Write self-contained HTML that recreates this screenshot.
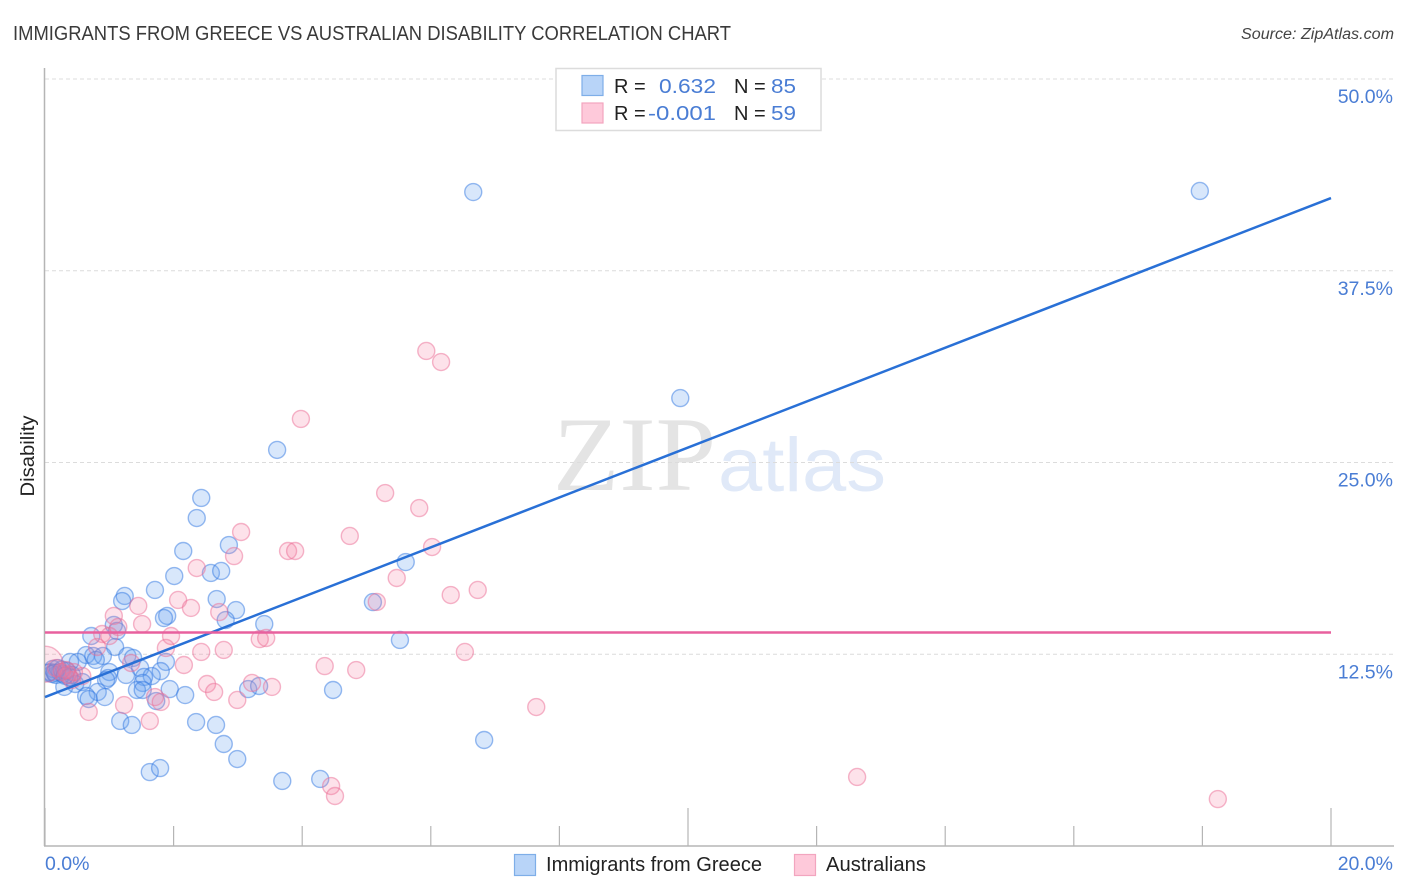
<!DOCTYPE html>
<html lang="en">
<head>
<meta charset="utf-8">
<title>Immigrants from Greece vs Australian Disability Correlation Chart</title>
<style>
html,body{margin:0;padding:0;background:#fff;width:1406px;height:892px;overflow:hidden}
svg{display:block;font-family:"Liberation Sans",sans-serif}
</style>
</head>
<body>
<svg id="chart" width="1406" height="892" viewBox="0 0 1406 892" xmlns="http://www.w3.org/2000/svg">
  <defs>
    <clipPath id="plot-clip"><rect x="45" y="60" width="1349" height="786"/></clipPath>
  </defs>
  <g>
    <text x="553" y="490" font-family="'Liberation Serif',serif" font-size="106" fill="#e4e4e4" textLength="163" lengthAdjust="spacingAndGlyphs">ZIP</text>
    <text x="718" y="491" font-size="76" fill="#e0e9f8" textLength="168" lengthAdjust="spacingAndGlyphs">atlas</text>
  </g>
  <g id="grid"></g>
  <g id="axes"></g>
  <g id="points-blue" clip-path="url(#plot-clip)"></g>
  <g id="points-pink" clip-path="url(#plot-clip)"></g>
  <g id="lines"></g>
  <text x="13" y="40" font-size="20" fill="#3a3a3a" textLength="718" lengthAdjust="spacingAndGlyphs">IMMIGRANTS FROM GREECE VS AUSTRALIAN DISABILITY CORRELATION CHART</text>
  <text x="1394" y="39" text-anchor="end" font-size="15.5" font-style="italic" fill="#444" textLength="153" lengthAdjust="spacingAndGlyphs">Source: ZipAtlas.com</text>
  <text transform="translate(34,456) rotate(-90)" text-anchor="middle" font-size="19" fill="#222" textLength="81" lengthAdjust="spacingAndGlyphs">Disability</text>
  <g>
    <rect x="556" y="68.500" width="265" height="62" fill="#fff" stroke="#dcdcdc" stroke-width="1.500"/>
    <rect x="582" y="75.500" width="21" height="20" fill="#b8d4f8" stroke="#7eaee8" stroke-width="1.200"/>
    <rect x="582" y="103" width="21" height="20" fill="#fec9da" stroke="#f2a5bf" stroke-width="1.200"/>
    <g font-size="20">
      <text x="614" y="93" fill="#222">R =</text>
      <text x="716" y="93" text-anchor="end" fill="#4a7dd4" textLength="57" lengthAdjust="spacingAndGlyphs">0.632</text>
      <text x="734" y="93" fill="#222">N =</text>
      <text x="771" y="93" fill="#4a7dd4" textLength="25" lengthAdjust="spacingAndGlyphs">85</text>
      <text x="614" y="120" fill="#222">R =</text>
      <text x="716" y="120" text-anchor="end" fill="#4a7dd4" textLength="68" lengthAdjust="spacingAndGlyphs">-0.001</text>
      <text x="734" y="120" fill="#222">N =</text>
      <text x="771" y="120" fill="#4a7dd4" textLength="25" lengthAdjust="spacingAndGlyphs">59</text>
    </g>
  </g>
  <g>
    <rect x="514.500" y="854.500" width="21" height="21" fill="#b8d4f8" stroke="#7eaee8" stroke-width="1.200"/>
    <text x="546" y="871" font-size="20" fill="#222" textLength="216" lengthAdjust="spacingAndGlyphs">Immigrants from Greece</text>
    <rect x="794.500" y="854.500" width="21" height="21" fill="#fec9da" stroke="#f2a5bf" stroke-width="1.200"/>
    <text x="826" y="871" font-size="20" fill="#222" textLength="100" lengthAdjust="spacingAndGlyphs">Australians</text>
  </g>
</svg>
<script>
// Chart data (percent values)
const xTickValues = [0, 2, 4, 6, 8, 10, 12, 14, 16, 18, 20];
const xTickMajor = [0, 10, 20];
const xEdgeLabels = ["0.0%", "20.0%"];
const yTickValues = [12.5, 25, 37.5, 50];
const yTickLabels = ["12.5%", "25.0%", "37.5%", "50.0%"];

const greeceX = [6.66,17.96,9.88,3.61,2.43,2.36,2.15,2.86,5.61,2.01,2.58,2.74,1.71,1.24,1.2,2.67,2.97,1.9,1.85,2.81,3.41,5.1,5.52,1.07,1.12,.72,1.09,1.28,1.37,.64,.75,.9,.79,.51,.39,1.88,1.48,1.8,1.0,1.66,1.26,1.54,.98,.95,1.52,.3,.47,.58,1.43,1.52,1.94,.82,2.18,.93,.64,.68,1.73,3.16,3.33,4.48,1.17,1.35,2.35,2.66,2.78,2.99,1.63,1.79,3.69,4.28,6.83,.08,.12,.17,.23,.28,.34,.42,.11,.2,.05,.26,.38,.15,.31];
const greeceY = [42.63,42.7,29.2,25.82,22.69,21.38,19.23,19.62,18.51,17.6,17.8,17.93,16.69,16.3,15.97,16.1,15.38,15.0,14.86,14.73,14.47,15.9,13.43,14.41,14.02,13.69,12.97,12.39,12.26,12.45,12.39,12.39,12.13,12.0,12.0,12.0,11.6,11.4,11.34,11.08,11.15,11.02,10.95,10.82,10.63,10.37,10.56,10.69,10.17,10.17,10.23,10.04,9.84,9.71,9.78,9.58,9.45,10.23,10.43,10.17,8.15,7.89,8.08,7.89,6.65,5.67,4.82,5.08,4.24,4.37,6.91,11.34,11.54,11.15,11.34,11.21,11.41,11.15,11.21,11.6,11.28,11.5,11.0,11.3,11.1];

const australiansX = [5.93,6.16,3.98,5.29,5.82,3.05,4.74,6.02,3.78,3.89,2.94,2.36,5.47,6.73,6.31,5.16,2.07,2.27,1.45,1.07,2.71,1.51,1.14,.89,1.0,1.96,3.34,3.44,.81,1.88,2.78,2.43,6.53,1.34,2.16,4.35,4.84,2.52,2.63,3.22,3.53,2.99,1.71,1.8,.68,1.23,1.63,7.64,12.63,18.24,4.45,4.51,.58,.42,.36,.26,.17,.45,.33];
const australiansY = [32.27,31.55,27.84,23.01,22.03,20.47,20.21,19.49,19.23,19.23,18.9,18.12,17.47,16.69,16.36,15.91,16.04,15.52,15.65,15.0,15.25,14.47,14.28,13.82,13.69,13.69,13.49,13.56,12.97,12.91,12.78,12.65,12.65,11.93,11.8,11.73,11.47,10.56,10.04,10.63,10.37,9.52,9.71,9.39,8.74,9.19,8.15,9.06,4.5,3.06,3.91,3.26,11.08,10.82,11.15,11.34,11.6,11.34,11.47];
const australiansLargeX = [0];
const australiansLargeY = [11.85];

const greeceTrendX = [0, 20];
const greeceTrendY = [9.71, 42.24];
const australiansTrendX = [0, 20];
const australiansTrendY = [13.92, 13.92];

// Axis functions
const xScale = v => 45 + v * 64.3;
const yScale = v => 846 - v * 15.34;
const NS = "http://www.w3.org/2000/svg";

function make(parent, tag, attrs) {
  const el = document.createElementNS(NS, tag);
  for (const k in attrs) el.setAttribute(k, attrs[k]);
  parent.appendChild(el);
  return el;
}

const grid = document.getElementById("grid");
const axes = document.getElementById("axes");

yTickValues.forEach((v, i) => {
  const line = make(grid, "line", {x1: 45, x2: 1394, y1: yScale(v), y2: yScale(v), stroke: "#dcdcdc", "stroke-width": 1, "stroke-dasharray": "4 3"});
  
  
  const label = make(axes, "text", {x: 1393, y: yScale(v) + 24, "text-anchor": "end", "font-size": 19.5, fill: "#4a7dd4"});
  label.textContent = yTickLabels[i];
  
  
});

const yAxisLine = make(axes, "line", {x1: 44.5, x2: 44.5, y1: 68, y2: 846, stroke: "#b5b5b5", "stroke-width": 1.5});


const xAxisLine = make(axes, "line", {x1: 44, x2: 1394, y1: 846, y2: 846, stroke: "#b5b5b5", "stroke-width": 1.5});



xTickValues.forEach(v => {
  const top = xTickMajor.includes(v) ? 808 : 826;
  const tick = make(axes, "line", {x1: xScale(v), x2: xScale(v), y1: top, y2: 846, stroke: "#b5b5b5", "stroke-width": 1.2});
  
  
});

const xLabelLeft = make(axes, "text", {x: 45, y: 870, "font-size": 19.5, fill: "#4a7dd4"});
xLabelLeft.textContent = xEdgeLabels[0];


const xLabelRight = make(axes, "text", {x: 1393, y: 870, "text-anchor": "end", "font-size": 19.5, fill: "#4a7dd4"});
xLabelRight.textContent = xEdgeLabels[1];



const blueGroup = document.getElementById("points-blue");
greeceX.forEach((v, i) => {
  const c = make(blueGroup, "circle", {cx: xScale(v), cy: yScale(greeceY[i]), r: 8.5, fill: "rgba(100,160,240,.25)", stroke: "rgba(50,120,225,.5)", "stroke-width": 1.4});
  
  
});

const pinkGroup = document.getElementById("points-pink");
australiansLargeX.forEach((v, i) => {
  const c = make(pinkGroup, "circle", {cx: xScale(v), cy: yScale(australiansLargeY[i]), r: 18, fill: "rgba(244,124,160,.2)", stroke: "rgba(236,110,150,.5)", "stroke-width": 1.4});
  
  
});
australiansX.forEach((v, i) => {
  const c = make(pinkGroup, "circle", {cx: xScale(v), cy: yScale(australiansY[i]), r: 8.5, fill: "rgba(244,124,160,.22)", stroke: "rgba(236,110,150,.5)", "stroke-width": 1.4});
  
  
});

const lines = document.getElementById("lines");
const greeceLine = make(lines, "line", {x1: xScale(greeceTrendX[0]), y1: yScale(greeceTrendY[0]), x2: xScale(greeceTrendX[1]), y2: yScale(greeceTrendY[1]), stroke: "#2970d6", "stroke-width": 2.5});


const australiansLine = make(lines, "line", {x1: xScale(australiansTrendX[0]), y1: yScale(australiansTrendY[0]), x2: xScale(australiansTrendX[1]), y2: yScale(australiansTrendY[1]), stroke: "#e8609e", "stroke-width": 2.5});


</script>
</body>
</html>
